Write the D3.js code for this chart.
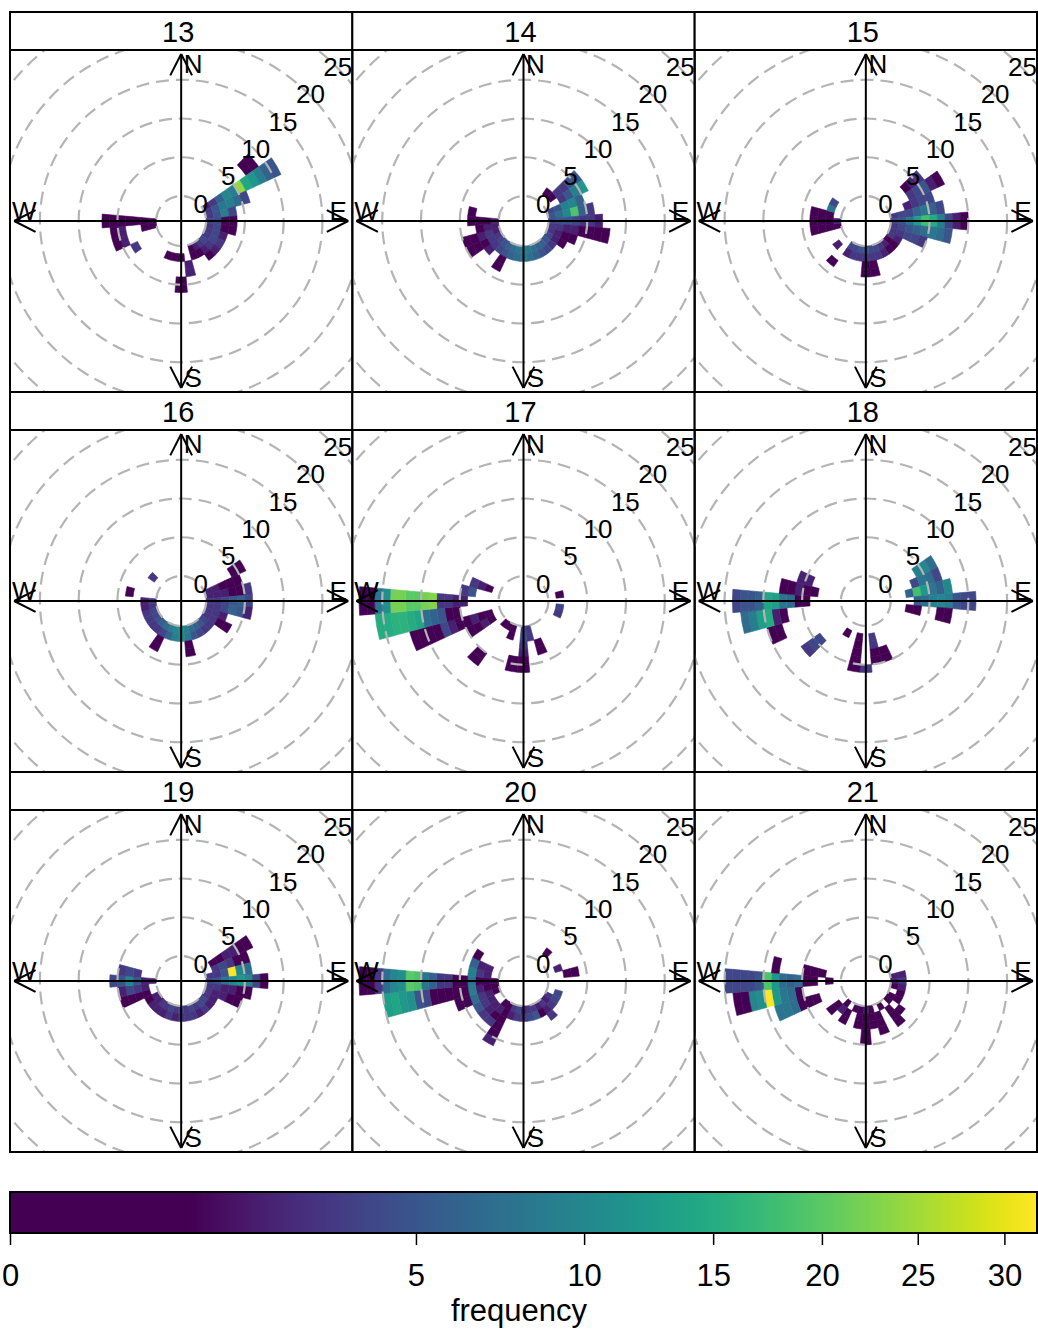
<!DOCTYPE html>
<html>
<head>
<meta charset="utf-8">
<script src="https://cdn.jsdelivr.net/npm/d3@7"></script>
<style>
body{margin:0;background:#fff}
text{font-family:"Liberation Sans",Arial,sans-serif}
</style>
</head>
<body>
<svg id="chart"></svg>
<script>
// panel titles (hour of day)
var hours=["13","14","15","16","17","18","19","20","21"]
// dashed ring values (wind speed)
var rings=[0,5,10,15,20,25]
// colour key ticks (frequency)
var keyTicks=[0,5,10,15,20,25,30]
var keyMax=32

// each row: [direction, first speed bin, [frequency per speed bin ...]] (0 = empty)
var p13=[[50,7,[1,1]],[60,0,[2,3,6,10,9,24,14,12,9,6,5]],[70,0,[3,5,8,9,7,4]],[80,0,[3,5,9,4]],
 [90,0,[4,4,1,1]],[100,0,[3,4,1,1]],[110,0,[3,4,2]],[120,0,[3,4,3]],[130,0,[4,3,2]],[140,0,[3,2,1]],
 [150,0,[2,1]],[160,0,[1,1]],[170,2,[2,2]],[180,0,[0,1,0,0,1,1]],[190,1,[1]],[200,1,[1]],
 [240,3,[3]],[250,4,[2,1]],[260,0,[1,1,0,0,2,1]],[270,0,[1,1,1,1,1,1,1]]]
var p14=[[40,1,[1]],[50,1,[1,3,3,5,5]],[60,2,[3,5,9,12]],[70,0,[4,5,9,10,6]],[80,0,[5,7,10,19,6,3]],
 [90,0,[4,5,5,4,3,3,2]],[100,0,[3,3,2,2,1,1,1,1]],[110,0,[3,2,1,1]],[120,0,[4,2,1]],[130,0,[5,3]],
 [140,0,[6,4]],[150,0,[6,5]],[160,0,[7,6]],[170,0,[8,7]],[180,0,[9,8]],[190,0,[8,7]],[200,0,[7,6]],
 [210,0,[6,5,1,1]],[220,0,[5,4]],[230,0,[4,3,2]],[240,0,[3,3,1,1,1]],[250,0,[2,3,2,1,1]],
 [260,0,[2,2,1]],[270,0,[2,1,1,1]],[280,3,[1]]]
var p15=[[50,3,[1,2,3]],[60,3,[3,4,5,2,1]],[70,2,[2,3,4,4]],[80,0,[3,4,4,6,8,6,4]],
 [90,0,[4,5,8,13,18,15,9,4,2,1]],[100,0,[3,4,5,6,7,8,7,5]],[110,0,[3,3,4,4,3]],[120,0,[3,2]],
 [130,0,[1,1]],[140,0,[2,1]],[150,0,[3,2]],[160,0,[4,3]],[170,0,[4,3,1,1]],[180,0,[5,3,1,1]],
 [190,0,[5,3]],[200,0,[4,3]],[210,0,[4,2]],[220,3,[1]],[230,1,[2]],[260,0,[1,1,1,1]],[270,0,[2,1,1,1]],
 [280,1,[1,1,1]],[290,1,[8]],[300,1,[4]]]
var p16=[[60,4,[1,1]],[70,0,[2,2,1,1,1]],[80,0,[2,2,2,1,1,3]],[90,0,[3,3,4,5,6,4]],[100,0,[3,3,4,6,5,2]],
 [110,0,[3,3,2]],[120,0,[3,3,1,1]],[130,0,[4,3]],[140,0,[5,3]],[150,0,[6,4]],[160,0,[7,5]],
 [170,0,[9,8,1,1]],[180,0,[10,10]],[190,0,[10,9]],[200,0,[9,6]],[210,0,[7,4,1,1]],[220,0,[6,3]],
 [230,0,[5,3]],[240,0,[4,3]],[250,0,[4,3]],[260,0,[3,2]],[270,0,[3,2]],[280,3,[1]],[310,1,[3]]]
var p17=[[80,1,[1]],[100,1,[4]],[110,1,[3]],[160,2,[1,1]],[170,0,[3,3]],[180,0,[4,4,3,2,1,1]],
 [190,4,[1,1]],[200,0,[1,1]],[210,0,[1]],[220,0,[1,0,0,0,0,1,1]],[240,1,[1,2,1,1]],
 [250,1,[1,1,2,1,1,2,4,1,1,1,1]],[260,5,[1,1,5,6,7,14,15,16,16,15,15]],
 [270,4,[2,2,3,3,23,22,20,20,22,22,11,8,1,1]],[280,3,[5,3]],[290,1,[1,2,3]]]
var p18=[[60,4,[9,10,7]],[70,3,[4,8,7,4]],[80,2,[6,18,12,8,6,10]],[90,3,[6,7,9,10,9,5,4,4]],
 [100,2,[1,1,0,0,1,1]],[160,3,[1,1]],[170,1,[3,3,1,1]],[180,5,[3]],[190,1,[1,1,1,1,1]],[210,1,[1]],
 [230,4,[4,4,3]],[250,8,[1,1]],[260,7,[1,2,15,13,9,7]],[270,4,[1,1,7,8,13,14,6,5,5,4]],
 [280,3,[1,1,2,1,1]],[290,4,[2,2]]]
var p19=[[60,1,[1,1,2,2,1,1]],[70,1,[3,4,3,1,1]],[80,0,[3,3,5,32,10,7]],[90,0,[4,5,8,10,12,10,4,1]],
 [100,0,[3,3,2,2,1,1]],[110,0,[3,2,2,1,1]],[120,0,[3,2]],[130,0,[4,2]],[140,0,[4,3]],[150,0,[3,2]],
 [160,0,[4,3]],[170,0,[3,3]],[180,0,[4,3]],[190,0,[3,2]],[200,0,[4,3]],[210,0,[3,2]],[220,0,[3,2]],
 [230,0,[2,2]],[240,0,[2,1]],[250,1,[1,1,1,1]],[260,1,[2,3,4,2]],[270,0,[2,2,5,10,5,4]],[280,2,[3,4,3]]]
var p20=[[40,1,[1]],[70,1,[2]],[80,2,[1,1]],[110,1,[4]],[120,0,[3,4]],[130,0,[2,3]],[140,0,[3,2,3]],
 [150,0,[2,1]],[160,0,[3,5]],[170,0,[3,4]],[180,0,[2,3]],[190,0,[4,3]],[200,0,[3,2]],
 [210,0,[1,1,1,1,1,2]],[220,0,[1,2,1,3]],[230,1,[2,2,3]],[240,1,[2,3,5]],[250,0,[1,2,3,7,1,1]],
 [260,0,[1,1,2,9,1,1,1,1,1,4,5,11,12,14,13]],[270,0,[1,1,1,8,1,1,3,3,6,8,19,20,11,10,7,3,1,1]],
 [280,0,[0,2,3,9]],[290,1,[2,2,6]],[300,3,[1]]]
var p21=[[80,0,[2,2]],[90,0,[2,3]],[100,0,[1,2]],[110,1,[1]],[120,0,[1,1]],[130,0,[1,0,1]],
 [140,1,[1,1,1]],[150,0,[1]],[160,1,[1,1,1]],[170,0,[1,1,1]],[180,0,[2,1,1,1,1]],[190,0,[1,1,1]],
 [200,0,[1]],[210,1,[1,1]],[220,0,[1,2]],[230,1,[1,1]],[250,3,[1,1,1,7,8,8]],
 [260,5,[1,7,8,12,32,11,10,1,1]],[270,1,[1,0,1,1,7,6,7,12,19,5,4,4,4,4]],[280,2,[1,1,1,0,0,0,1]]]
var panelData=[p13,p14,p15,p16,p17,p18,p19,p20,p21]

var screen={width:1038,height:1331}
var grid={left:10,top:12,cellW:(1037-10)/3,stripH:38,plotH:342}

var svg=d3.select("#chart")
    .attr("width",screen.width)
    .attr("height",screen.height)

// speed -> radius, 0 sits on the inner hole
var rScale=d3.scaleLinear().domain([0,25]).range([25,218.75])
// colours follow sqrt(frequency); lowest band is flat
var colorScale=d3.scaleSequential(d3.interpolateViridis).domain([1,Math.sqrt(keyMax)])
var fillFor=function(f){return colorScale(Math.max(1,Math.sqrt(f)))}

var toCells=function(rows){
    var cells=[]
    rows.forEach(function(row){
        row[2].forEach(function(f,i){
            if(f>0){cells.push({dir:row[0],ws:row[1]+i,freq:f})}
        })
    })
    return cells
}

var cellArc=d3.arc()
    .innerRadius(function(d){return rScale(d.ws)})
    .outerRadius(function(d){return rScale(d.ws+1)})
    .startAngle(function(d){return (d.dir-5)*Math.PI/180})
    .endAngle(function(d){return (d.dir+5)*Math.PI/180})

var drawArrow=function(g,x1,y1,x2,y2){
    g.append("line").attr("x1",x1).attr("y1",y1).attr("x2",x2).attr("y2",y2)
    var ang=Math.atan2(y2-y1,x2-x1)
    var len=24,spread=27*Math.PI/180
    ;[ang+Math.PI-spread,ang+Math.PI+spread].forEach(function(a){
        g.append("line").attr("x1",x2).attr("y1",y2)
            .attr("x2",x2+len*Math.cos(a)).attr("y2",y2+len*Math.sin(a))
    })
}

var drawPanel=function(rows,i){
    var col=i%3,row=Math.floor(i/3)
    var x0=grid.left+col*grid.cellW
    var y0=grid.top+row*(grid.stripH+grid.plotH)
    var py=y0+grid.stripH
    var cx=x0+grid.cellW/2,cy=py+grid.plotH/2

    svg.append("clipPath").attr("id","clip"+i)
        .append("rect").attr("x",x0).attr("y",py).attr("width",grid.cellW).attr("height",grid.plotH)

    var plot=svg.append("g").attr("clip-path","url(#clip"+i+")")
    var g=plot.append("g").attr("transform","translate("+cx+","+cy+")")

    g.selectAll("path.cell")
        .data(toCells(rows))
        .enter()
        .append("path")
        .classed("cell",true)
        .attr("d",cellArc)
        .attr("fill",function(d){return fillFor(d.freq)})
        .attr("stroke",function(d){return fillFor(d.freq)})
        .attr("stroke-width",0.6)

    g.selectAll("circle.ring")
        .data(rings)
        .enter()
        .append("circle")
        .classed("ring",true)
        .attr("r",function(v){return rScale(v)})
        .attr("fill","none")
        .attr("stroke","#b4b4b4")
        .attr("stroke-width",2.2)
        .attr("stroke-dasharray","13,7")

    var arrows=g.append("g").attr("stroke","black").attr("stroke-width",2)
    var up=167
    drawArrow(arrows,0,0,0,-up)
    drawArrow(arrows,0,0,0,up)
    drawArrow(arrows,0,0,-up,0)
    drawArrow(arrows,0,0,up,0)

    g.selectAll("text.ring")
        .data(rings)
        .enter()
        .append("text")
        .classed("ring",true)
        .text(function(v){return v})
        .attr("x",function(v){return rScale(v)/Math.SQRT2+2})
        .attr("y",function(v){return -rScale(v)/Math.SQRT2+0.5})
        .attr("text-anchor","middle")
        .attr("dominant-baseline","central")
        .attr("font-size",26)

    var compass=[["N",12,-157],["E",157,-10],["S",12,157],["W",-157,-10]]
    g.selectAll("text.compass")
        .data(compass)
        .enter()
        .append("text")
        .classed("compass",true)
        .text(function(d){return d[0]})
        .attr("x",function(d){return d[1]})
        .attr("y",function(d){return d[2]})
        .attr("text-anchor","middle")
        .attr("dominant-baseline","central")
        .attr("font-size",26)

    // strip and frames
    svg.append("rect").attr("x",x0).attr("y",y0).attr("width",grid.cellW).attr("height",grid.stripH)
        .attr("fill","white").attr("stroke","black").attr("stroke-width",2)
    svg.append("text").text(hours[i])
        .attr("x",cx-3).attr("y",y0+grid.stripH/2+1)
        .attr("text-anchor","middle").attr("dominant-baseline","central")
        .attr("font-size",29)
    svg.append("rect").attr("x",x0).attr("y",py).attr("width",grid.cellW).attr("height",grid.plotH)
        .attr("fill","none").attr("stroke","black").attr("stroke-width",2)
}

var createLegend=function(){
    var key={x0:10,x1:1037,y:1192,h:41}
    var keyScale=d3.scaleSqrt().domain([0,keyMax]).range([key.x0,key.x1])
    var smax=Math.sqrt(keyMax)
    var grad=svg.append("defs").append("linearGradient").attr("id","keygrad")
    d3.range(0,201).forEach(function(k){
        var o=k/200,s=o*smax
        grad.append("stop").attr("offset",o)
            .attr("stop-color",s<1?colorScale(1):colorScale(s))
    })
    svg.append("rect").attr("x",key.x0).attr("y",key.y).attr("width",key.x1-key.x0).attr("height",key.h)
        .attr("fill","url(#keygrad)").attr("stroke","black").attr("stroke-width",2)

    var axis=svg.append("g")
        .attr("transform","translate(0,"+(key.y+key.h)+")")
        .call(d3.axisBottom(keyScale).tickValues(keyTicks).tickSize(12).tickPadding(19))
    axis.select(".domain").remove()
    axis.selectAll("line").attr("stroke-width",1.5)
    axis.selectAll("text").attr("font-size",31).attr("font-family","Liberation Sans, Arial, sans-serif")

    svg.append("text").text("frequency")
        .attr("x",519).attr("y",1321)
        .attr("text-anchor","middle")
        .attr("font-size",31)
}

panelData.forEach(drawPanel)
createLegend()
</script>
</body>
</html>
